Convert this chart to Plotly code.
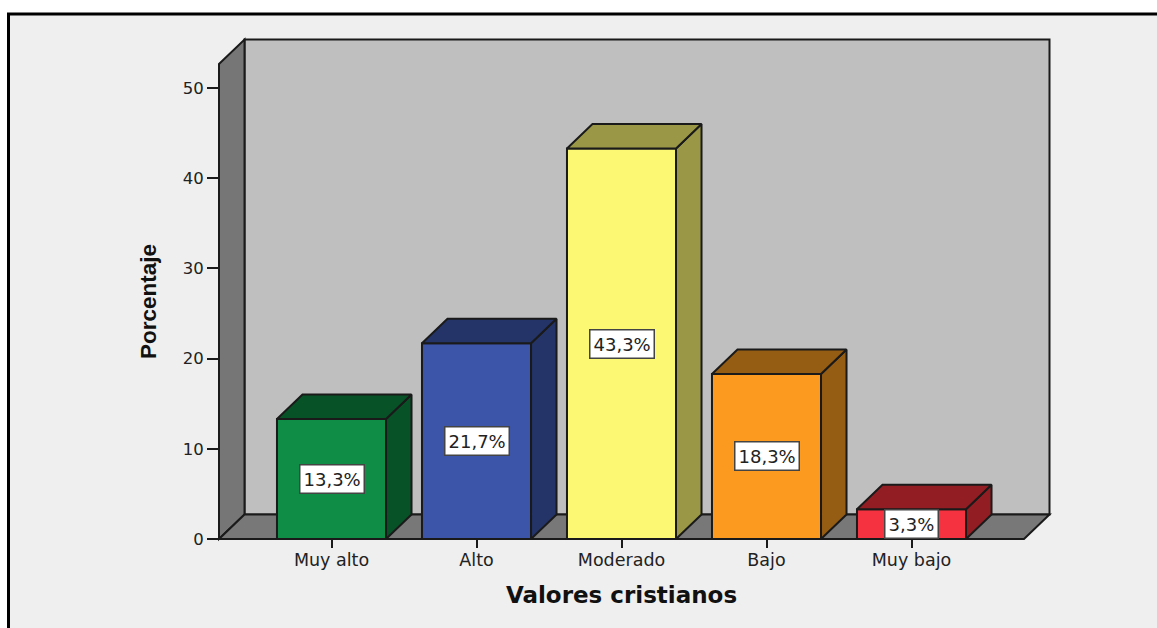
import plotly.graph_objects as go

categories = ["Muy alto", "Alto", "Moderado", "Bajo", "Muy bajo"]
values = [13.3, 21.7, 43.3, 18.3, 3.3]
labels = ["13,3%", "21,7%", "43,3%", "18,3%", "3,3%"]
y_ticks = [0, 10, 20, 30, 40, 50]
front_colors = ["#0f8c46", "#3d55a8", "#fcf873", "#fb9a1f", "#f53340"]
shade_colors = ["#075227", "#243468", "#9a9747", "#955c13", "#921e24"]

W, H = 1157, 628
L, R, T, B = 219, 1024, 64, 539.5      # plot area in pixels
PX_PER_CAT, PX_PER_UNIT = 145.0, 9.03
X0_PX = 331.5                          # pixel of first category
DX, DY = 25.5, 24.5                    # 3D depth in pixels
BAR_W = 0.752
INK = "#1a1a1a"

dx, dy = DX / PX_PER_CAT, DY / PX_PER_UNIT
x_pos = list(range(len(categories)))
fig = go.Figure()

# front faces
fig.add_trace(go.Bar(x=x_pos, y=values, width=BAR_W,
                     marker=dict(color=front_colors, line=dict(color=INK, width=2)),
                     hoverinfo="skip", showlegend=False))

# side and top faces, derived from the values
for x, v, c in zip(x_pos, values, shade_colors):
    a, b = x - BAR_W / 2, x + BAR_W / 2
    for xs, ys in [([b, b + dx, b + dx, b, b], [0, dy, v + dy, v, 0]),
                   ([a, a + dx, b + dx, b, a], [v, v + dy, v + dy, v, v])]:
        fig.add_trace(go.Scatter(x=xs, y=ys, mode="lines", fill="toself", fillcolor=c,
                                 line=dict(color=INK, width=2), hoverinfo="skip",
                                 showlegend=False))

# value labels
for x, v, t in zip(x_pos, values, labels):
    fig.add_annotation(x=x, y=v / 2, text=t, showarrow=False,
                       font=dict(family="DejaVu Sans", size=18, color="#222222"),
                       bgcolor="white", bordercolor="#444444", borderwidth=1.5, borderpad=3)

# chart walls and frame, in plot-area fractions
pw, ph = R - L, B - T
fx = lambda px: (px - L) / pw
fy = lambda px: (B - px) / ph
def poly(points, fill, line=INK, width=2):
    d = "M " + " L ".join(f"{fx(a):.5f},{fy(b):.5f}" for a, b in points) + " Z"
    return dict(type="path", xref="paper", yref="paper", path=d, fillcolor=fill,
                line=dict(color=line, width=width), layer="below")

shapes = [
    poly([(8.5, 14), (W + 20, 14), (W + 20, H + 20), (8.5, H + 20)], "#efefef", "#000000", 3),
    poly([(L + DX, T - DY), (R + DX, T - DY), (R + DX, B - DY), (L + DX, B - DY)], "#bfbfbf"),
    poly([(L, T), (L + DX, T - DY), (L + DX, B - DY), (L, B)], "#767676"),
    poly([(L, B), (L + DX, B - DY), (R + DX, B - DY), (R, B)], "#787878"),
]

fig.update_layout(
    width=W, height=H, autosize=False,
    margin=dict(l=L, r=W - R, t=T, b=H - B, pad=0),
    paper_bgcolor="white", plot_bgcolor="rgba(0,0,0,0)",
    shapes=shapes, showlegend=False,
    xaxis=dict(range=[(L - X0_PX) / PX_PER_CAT, (R - X0_PX) / PX_PER_CAT],
               tickmode="array", tickvals=x_pos, ticktext=categories,
               ticks="outside", ticklen=8, tickwidth=2, tickcolor=INK,
               ticklabelstandoff=-3,
               showgrid=False, zeroline=False, showline=False,
               tickfont=dict(family="DejaVu Sans", size=17.5, color="#222222"),
               title=dict(text="<b>Valores cristianos</b>", standoff=17,
                          font=dict(family="DejaVu Sans", size=23, color="#111111"))),
    yaxis=dict(range=[0, (B - T) / PX_PER_UNIT],
               tickmode="array", tickvals=y_ticks,
               ticks="outside", ticklen=11, tickwidth=2, tickcolor=INK,
               showgrid=False, zeroline=False, showline=False,
               tickfont=dict(family="DejaVu Sans", size=16.5, color="#222222"),
               title=dict(text="<b>Porcentaje</b>", standoff=19,
                          font=dict(family="Liberation Sans", size=22.5, color="#111111"))),
)

fig.write_html("out.html", post_script="document.body.style.margin='0';document.body.style.overflow='hidden';",
               config=dict(displayModeBar=False))
